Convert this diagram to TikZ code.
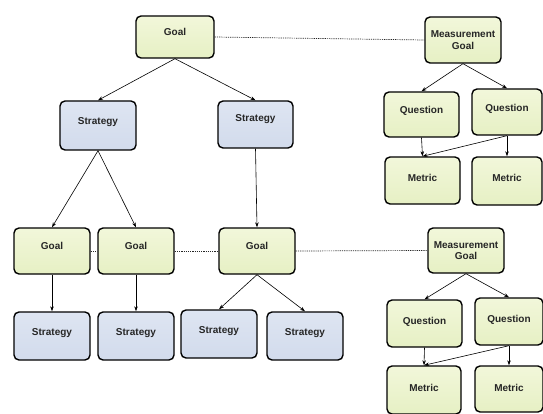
\documentclass[tikz,border=0pt]{standalone}
\usepackage{fontspec}
\setmainfont{Liberation Sans}
\usetikzlibrary{arrows.meta}
\definecolor{goalfill}{HTML}{E6F0C4}
\definecolor{goaltop}{HTML}{F2F7DA}
\definecolor{stratfill}{HTML}{D2DBEC}
\definecolor{strattop}{HTML}{DEE5F2}
\tikzset{
  box/.style={draw=black, line width=1.4pt, rounded corners=5pt,
    font=\bfseries\fontsize{10}{11.5}\selectfont, inner sep=0pt, align=center,
    text=black!85},
  gbox/.style={box, top color=goaltop, bottom color=goalfill},
  sbox/.style={box, top color=strattop, bottom color=stratfill},
  % width, height, baseline distance from top edge
  sz/.style n args={3}{minimum width=#1pt, text width=#1pt, minimum height=#2pt,
    text height=#3pt, text depth=#2pt-#3pt},
  link/.style={line width=0.6pt, -{Stealth[length=5pt,width=3.5pt]}},
  dotlink/.style={line width=0.7pt, dash pattern=on 1.2pt off 1pt, draw=black!85}
}
\begin{document}
\begin{tikzpicture}[x=1pt,y=-1pt]
\useasboundingbox (0,0) rectangle (543,414);

% strategic goal tree
\node[gbox, sz={78}{42}{20}] (g0) at (175,37) {Goal};
\node[sbox, sz={76}{49}{24}] (s1) at (98,125.5) {Strategy};
\node[sbox, sz={75}{47}{21}] (s2) at (255.5,124.5) {Strategy};

\node[gbox, sz={76}{46}{21}] (ga) at (52,251) {Goal};
\node[gbox, sz={76}{46}{21}] (gb) at (136,251) {Goal};
\node[gbox, sz={76}{46}{21}] (gc) at (257,251) {Goal};

\node[sbox, sz={76}{48}{23}] (sa) at (52,336) {Strategy};
\node[sbox, sz={76}{48}{23}] (sb) at (136,336) {Strategy};
\node[sbox, sz={76}{48}{23}] (sc) at (219,334) {Strategy};
\node[sbox, sz={76}{48}{23}] (sd) at (305,336) {Strategy};

% measurement goal, questions and metrics (upper)
\node[gbox, minimum width=76pt, minimum height=46pt] (mg1) at (463,40) {Measurement\\Goal};
\node[gbox, sz={75}{45}{22}] (q1) at (421.5,114.5) {Question};
\node[gbox, sz={70}{46}{23}] (q2) at (507,112) {Question};
\node[gbox, sz={75}{47}{25}] (m1) at (422.5,180.5) {Metric};
\node[gbox, sz={70}{48}{25}] (m2) at (507,181) {Metric};

% measurement goal, questions and metrics (lower)
\node[gbox, minimum width=76pt, minimum height=45pt] (mg2) at (466,250.5) {Measurement\\Goal};
\node[gbox, sz={75}{47}{24}] (q3) at (424.5,323.5) {Question};
\node[gbox, sz={68}{47}{24}] (q4) at (509,321.5) {Question};
\node[gbox, sz={74}{48}{25}] (m3) at (424,390) {Metric};
\node[gbox, sz={68}{46}{25}] (m4) at (509,389) {Metric};

% refinement links
\draw[link] (g0.south) -- (s1.north);
\draw[link] (g0.south) -- (s2.north);
\draw[link] (s1.south) -- (ga.north);
\draw[link] (s1.south) -- (gb.north);
\draw[link] (s2.south) -- (gc.north);
\draw[link] (ga.south) -- (sa.north);
\draw[link] (gb.south) -- (sb.north);
\draw[link] (gc.south) -- (sc.north);
\draw[link] (gc.south) -- (sd.north);

\draw[link] (mg1.south) -- (q1.north);
\draw[link] (mg1.south) -- (q2.north);
\draw[link] (q1.south) -- (m1.north);
\draw[link] (q2.south) -- (m1.north);
\draw[link] (q2.south) -- (m2.north);

\draw[link] (mg2.south) -- (q3.north);
\draw[link] (mg2.south) -- (q4.north);
\draw[link] (q3.south) -- (m3.north);
\draw[link] (q4.south) -- (m3.north);
\draw[link] (q4.south) -- (m4.north);

% dotted associations
\draw[dotlink] (g0.east) -- (mg1.west);
\draw[dotlink] (ga.east) -- (gb.west);
\draw[dotlink] (gb.east) -- (gc.west);
\draw[dotlink] (gc.east) -- (mg2.west);
\end{tikzpicture}
\end{document}
